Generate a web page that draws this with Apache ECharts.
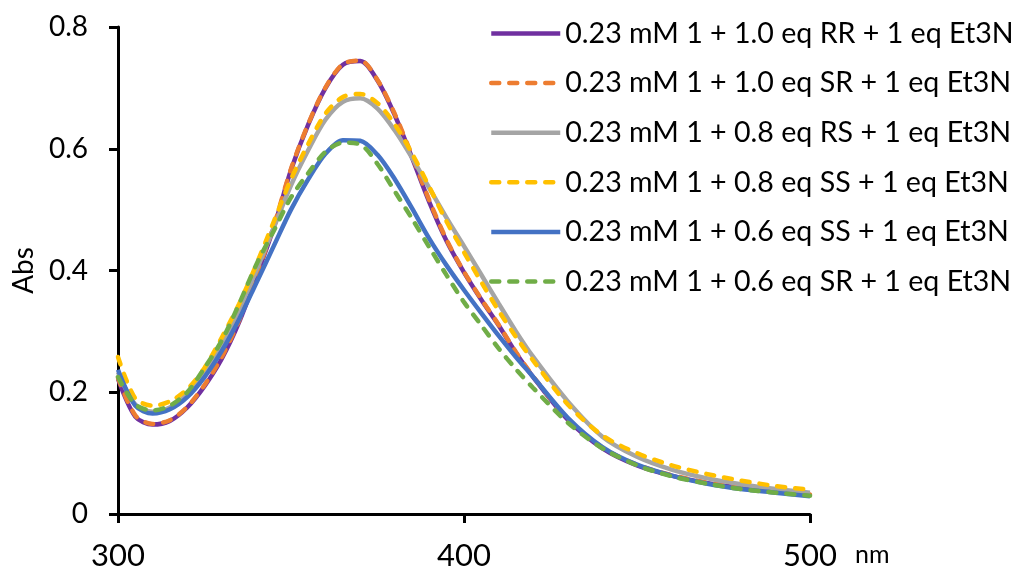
<!DOCTYPE html>
<html>
<head>
<meta charset="utf-8">
<script src="https://cdn.jsdelivr.net/npm/echarts@6/dist/echarts.min.js"></script>
<style>
  html, body { margin: 0; padding: 0; background: #fff; }
  #chart { width: 1016px; height: 571px; }
</style>
</head>
<body>
<div id="chart"></div>
<script>
// wavelength (nm)
var wavelength = [300, 305, 310, 315, 320, 325, 330, 335, 340, 345, 350, 355, 360, 365, 370, 375, 380,
    385, 390, 395, 400, 405, 410, 415, 420, 430, 440, 450, 460, 470, 480, 490, 500];

var seriesNames = [
    '0.23 mM 1 + 1.0 eq RR + 1 eq Et3N',
    '0.23 mM 1 + 1.0 eq SR + 1 eq Et3N',
    '0.23 mM 1 + 0.8 eq RS + 1 eq Et3N',
    '0.23 mM 1 + 0.8 eq SS + 1 eq Et3N',
    '0.23 mM 1 + 0.6 eq SS + 1 eq Et3N',
    '0.23 mM 1 + 0.6 eq SR + 1 eq Et3N'
];

var absRR10 = [0.222, 0.160, 0.147, 0.153, 0.175, 0.210, 0.255, 0.315, 0.390, 0.470, 0.565, 0.640, 0.700, 0.738, 0.744, 0.712, 0.655,
    0.585, 0.512, 0.448, 0.397, 0.352, 0.310, 0.265, 0.225, 0.155, 0.108, 0.080, 0.063, 0.051, 0.043, 0.037, 0.032];
var absSR10 = [0.224, 0.162, 0.148, 0.154, 0.176, 0.212, 0.258, 0.318, 0.393, 0.473, 0.567, 0.641, 0.701, 0.739, 0.745, 0.713, 0.657,
    0.588, 0.515, 0.450, 0.398, 0.353, 0.311, 0.266, 0.226, 0.156, 0.109, 0.081, 0.064, 0.052, 0.043, 0.037, 0.032];
var absRS08 = [0.233, 0.180, 0.168, 0.175, 0.197, 0.232, 0.280, 0.335, 0.400, 0.470, 0.540, 0.598, 0.648, 0.677, 0.683, 0.666, 0.630,
    0.585, 0.535, 0.486, 0.440, 0.393, 0.346, 0.300, 0.258, 0.185, 0.127, 0.094, 0.073, 0.059, 0.049, 0.041, 0.035];
var absSS08 = [0.258, 0.190, 0.178, 0.185, 0.205, 0.240, 0.290, 0.345, 0.410, 0.480, 0.550, 0.608, 0.658, 0.685, 0.690, 0.675, 0.640,
    0.592, 0.537, 0.480, 0.430, 0.381, 0.334, 0.291, 0.252, 0.180, 0.129, 0.100, 0.080, 0.066, 0.055, 0.046, 0.040];
var absSS06 = [0.237, 0.178, 0.165, 0.172, 0.192, 0.225, 0.268, 0.320, 0.380, 0.440, 0.500, 0.550, 0.592, 0.614, 0.613, 0.590, 0.550,
    0.502, 0.452, 0.408, 0.368, 0.330, 0.293, 0.258, 0.225, 0.158, 0.110, 0.081, 0.063, 0.050, 0.041, 0.035, 0.029];
var absSR06 = [0.225, 0.180, 0.170, 0.178, 0.200, 0.240, 0.285, 0.345, 0.410, 0.465, 0.520, 0.560, 0.595, 0.610, 0.607, 0.575, 0.530,
    0.485, 0.438, 0.392, 0.348, 0.310, 0.272, 0.238, 0.207, 0.150, 0.108, 0.080, 0.062, 0.050, 0.041, 0.035, 0.030];

var seriesData = [absRR10, absSR10, absRS08, absSS08, absSS06, absSR06];
var seriesColors = ['#7030A0', '#ED7D31', '#A5A5A5', '#FFC000', '#4472C4', '#70AD47'];
var seriesDashed = [false, true, false, true, false, true];

var xTicks = { min: 300, max: 500, step: 100 };
var yTicks = { min: 0, max: 0.8, step: 0.2 };

var fontName = 'Lato';

function pairs(ys) {
    return wavelength.map(function (x, i) { return [x, ys[i]]; });
}

function lineStyleOf(i) {
    return {
        color: seriesColors[i],
        width: 4.5,
        type: seriesDashed[i] ? [8, 10] : 'solid',
        cap: seriesDashed[i] ? 'round' : 'butt'
    };
}

var series = seriesNames.map(function (name, i) {
    return {
        name: name,
        type: 'line',
        smooth: 0.3,
        symbol: 'none',
        lineStyle: lineStyleOf(i),
        itemStyle: { color: seriesColors[i] },
        data: pairs(seriesData[i])
    };
});

// legend 只画线，不要圆点
var legendData = seriesNames.map(function (name, i) {
    return {
        name: name,
        itemStyle: { opacity: 0 },
        lineStyle: lineStyleOf(i)
    };
});

var chart = echarts.init(document.getElementById('chart'));
chart.setOption({
    animation: false,
    backgroundColor: '#fff',
    grid: {
        left: 118,
        right: 206,
        top: 27,
        bottom: 53,
        containLabel: false
    },
    legend: {
        orient: 'vertical',
        left: 489,
        top: 18.5,
        padding: 0,
        itemWidth: 69,
        itemHeight: 30,
        itemGap: 19.6,
        data: legendData,
        itemStyle: { opacity: 0 },
        textStyle: {
            fontFamily: fontName,
            fontSize: 28.6,
            color: '#000',
            lineHeight: 30,
            height: 30,
            padding: [0, 0, 0, 0]
        }
    },
    xAxis: {
        type: 'value',
        min: xTicks.min,
        max: xTicks.max,
        interval: xTicks.step,
        name: 'nm',
        nameLocation: 'end',
        nameGap: 45,
        nameTextStyle: {
            fontFamily: fontName,
            fontSize: 25,
            color: '#000',
            verticalAlign: 'top',
            padding: [28, 0, 0, 0]
        },
        splitLine: { show: false },
        axisLine: { lineStyle: { color: '#000', width: 3 } },
        axisTick: { show: true, inside: false, length: 9, lineStyle: { color: '#000', width: 3 } },
        axisLabel: {
            margin: 26,
            fontFamily: fontName,
            fontSize: 31,
            color: '#000'
        }
    },
    yAxis: {
        type: 'value',
        min: yTicks.min,
        max: yTicks.max,
        interval: yTicks.step,
        name: 'Abs',
        nameLocation: 'middle',
        nameGap: 77,
        nameRotate: 90,
        nameTextStyle: {
            fontFamily: fontName,
            fontSize: 28,
            color: '#000'
        },
        splitLine: { show: false },
        axisLine: { show: true, lineStyle: { color: '#000', width: 3 } },
        axisTick: { show: true, inside: false, length: 9, lineStyle: { color: '#000', width: 3 } },
        axisLabel: {
            margin: 30,
            fontFamily: fontName,
            fontSize: 28,
            color: '#000'
        }
    },
    series: series
});
</script>
</body>
</html>
